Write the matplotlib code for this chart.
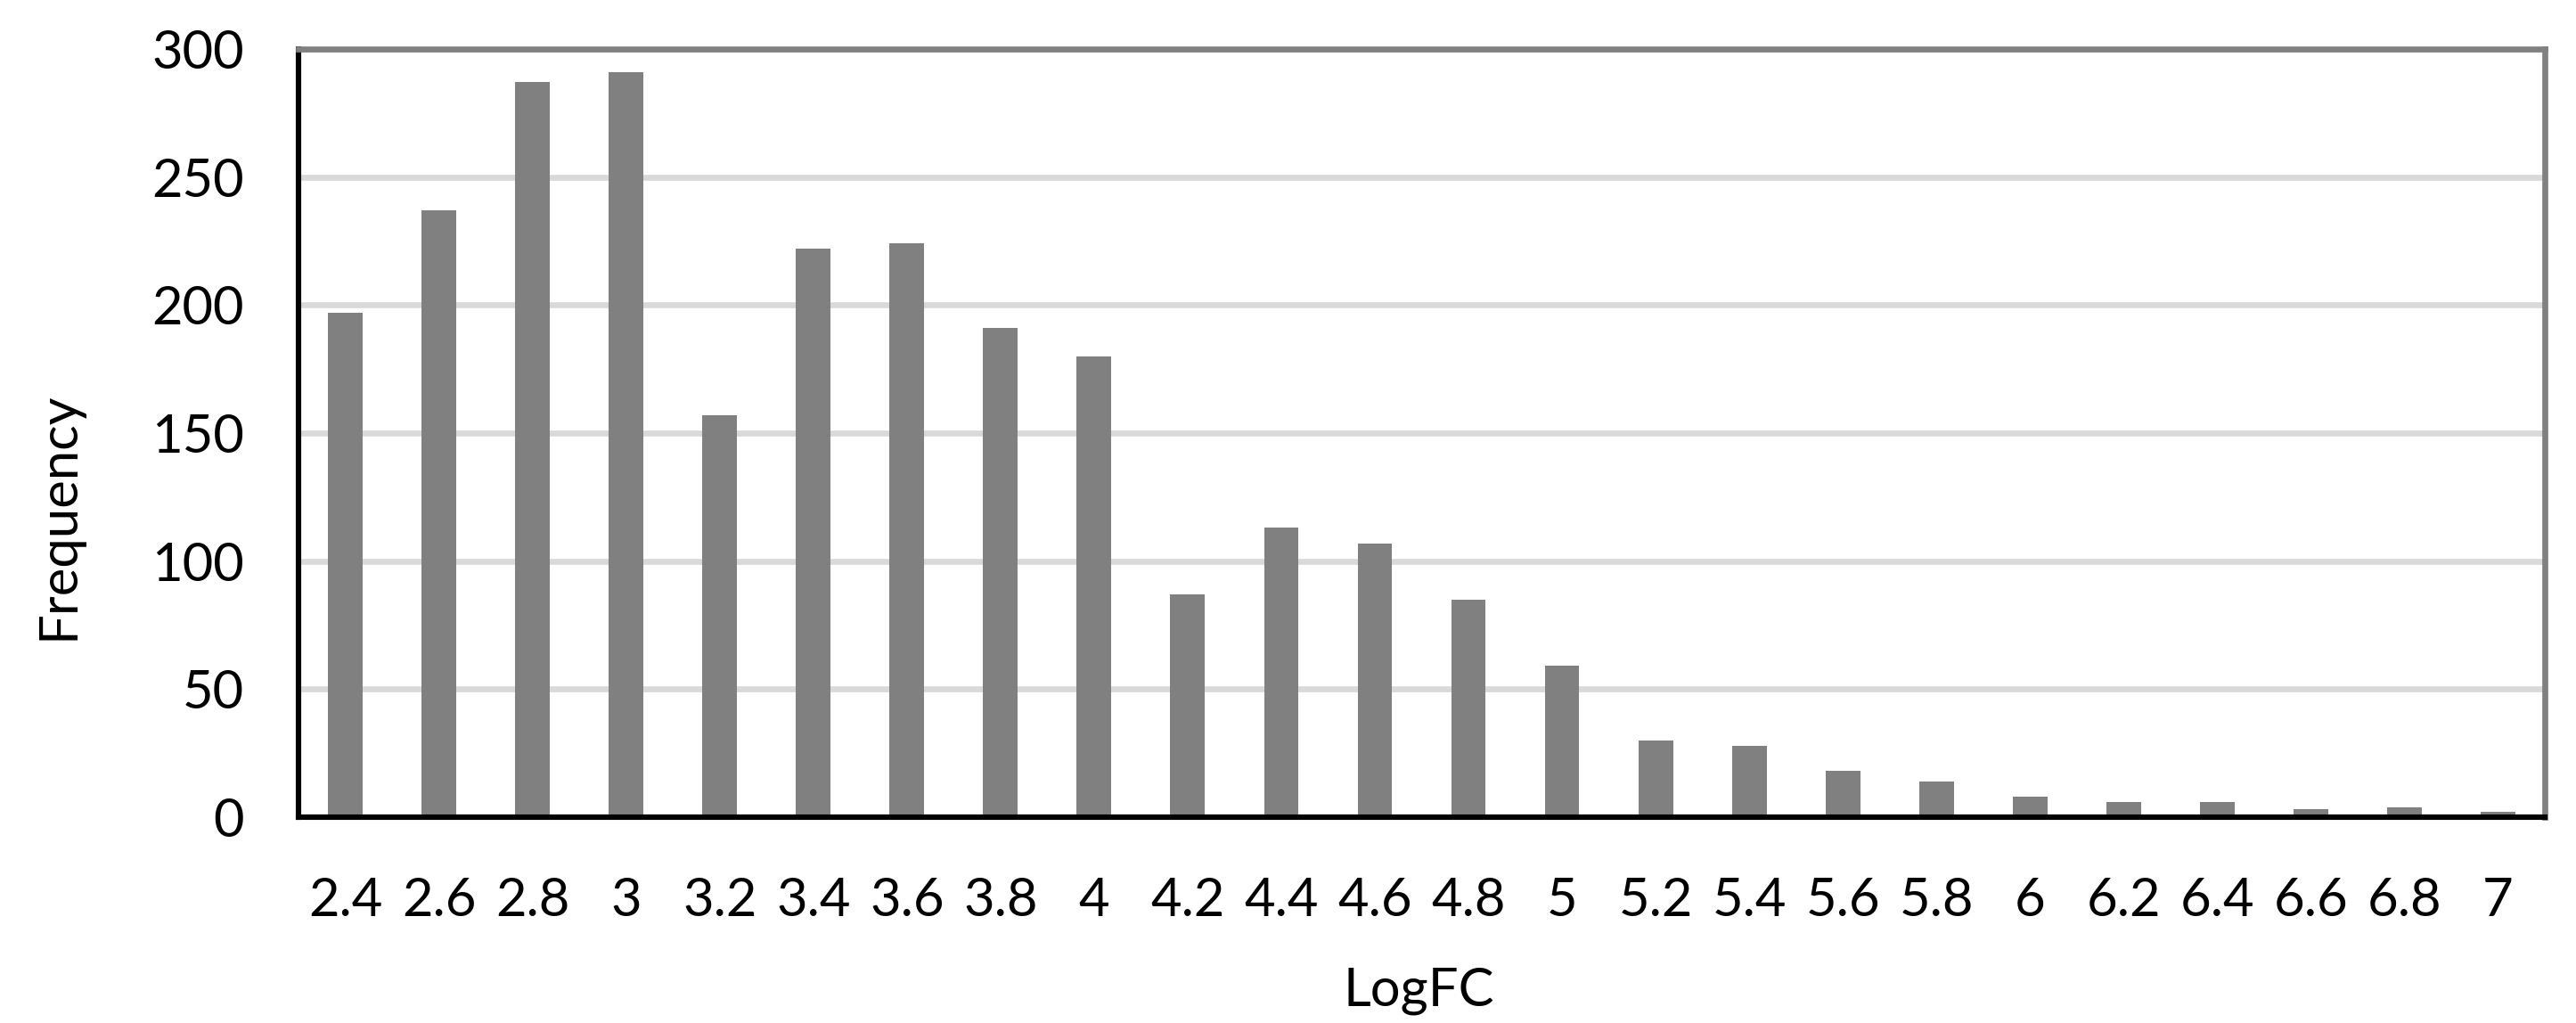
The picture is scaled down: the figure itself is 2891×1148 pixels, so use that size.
import matplotlib.pyplot as plt
import numpy as np

plt.rcParams['font.family'] = ['Lato', 'DejaVu Sans']

logfc = ['2.4', '2.6', '2.8', '3', '3.2', '3.4', '3.6', '3.8', '4', '4.2', '4.4', '4.6',
         '4.8', '5', '5.2', '5.4', '5.6', '5.8', '6', '6.2', '6.4', '6.6', '6.8', '7']
frequency = [197, 237, 287, 291, 157, 222, 224, 191, 180, 87, 113, 107,
             85, 59, 30, 28, 18, 14, 8, 6, 6, 3, 4, 2]
y_ticks = [0, 50, 100, 150, 200, 250, 300]

W, H = 2891, 1148
fig = plt.figure(figsize=(W / 200, H / 200), dpi=200)
ax = fig.add_axes([335 / W, 1 - 917 / H, (2856 - 335) / W, (917 - 55) / H])

x = np.arange(len(logfc))
ax.bar(x, frequency, width=0.37, color='#808080', zorder=2)

ax.set_xlim(-0.5, len(logfc) - 0.5)
ax.set_ylim(0, 300)
ax.set_yticks(y_ticks)
ax.set_xticks(x)
ax.set_xticklabels(logfc)

ax.grid(axis='y', color='#d9d9d9', linewidth=2.4)
ax.set_axisbelow(True)

for side in ['top', 'right']:
    ax.spines[side].set_color('#808080')
    ax.spines[side].set_linewidth(2.4)
for side in ['left', 'bottom']:
    ax.spines[side].set_color('black')
    ax.spines[side].set_linewidth(2.2)
ax.spines['top'].set_zorder(3)
ax.spines['bottom'].set_zorder(3)

ax.tick_params(axis='both', length=0, labelsize=21.5, colors='black')
ax.tick_params(axis='y', pad=22)
ax.tick_params(axis='x', pad=24)

fig.text(65 / W, 1 - 579 / H, 'Frequency', rotation=90, ha='center', va='center', fontsize=21.5)
fig.text(1592 / W, 1 - 1112 / H, 'LogFC', ha='center', va='center', fontsize=21.5)

plt.savefig('out.png', dpi=200)
plt.close()
